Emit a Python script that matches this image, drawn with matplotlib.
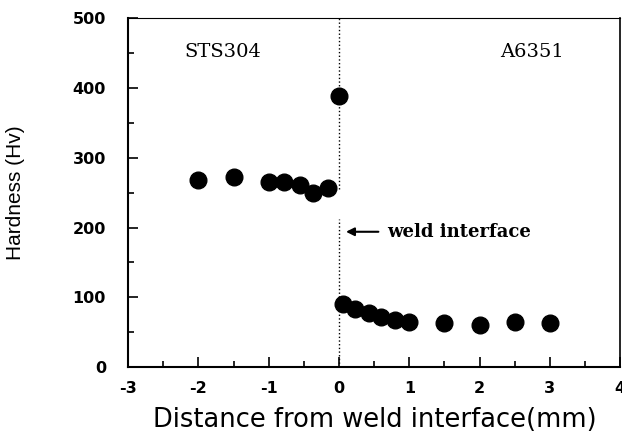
import matplotlib
matplotlib.use("Agg")
import matplotlib.pyplot as plt
from matplotlib.ticker import MultipleLocator

plt.rcParams["axes.unicode_minus"] = False

# STS304 side
x_sts = [-2.0, -1.5, -1.0, -0.78, -0.55, -0.37, -0.16, 0.0]
hv_sts = [268, 273, 265, 265, 261, 249, 257, 388]
# A6351 side
x_al = [0.05, 0.23, 0.42, 0.6, 0.8, 1.0, 1.5, 2.0, 2.5, 3.0]
hv_al = [91, 84, 78, 72, 68, 65, 63, 61, 65, 64]

xticks = [-3, -2, -1, 0, 1, 2, 3, 4]
yticks = [0, 100, 200, 300, 400, 500]

fig = plt.figure(figsize=(6.22, 4.32), dpi=100)
ax = fig.add_axes([0.206, 0.150, 0.791, 0.808])

ax.plot(x_sts + x_al, hv_sts + hv_al, "o", color="black", markersize=12)

# weld interface line
ax.plot([0, 0], [0, 212], ":", color="black", lw=1)
ax.plot([0, 0], [255, 500], ":", color="black", lw=1)
ax.annotate("", xy=(0.06, 194), xytext=(0.6, 194),
            arrowprops=dict(arrowstyle="-|>", color="black", lw=1.5, mutation_scale=12))
ax.text(0.68, 194, "weld interface", family="DejaVu Serif", fontweight="bold",
        fontsize=13, va="center", ha="left")
ax.text(-1.65, 452, "STS304", family="DejaVu Serif", fontsize=14, ha="center", va="center")
ax.text(2.74, 452, "A6351", family="DejaVu Serif", fontsize=14, ha="center", va="center")

ax.set_xlim(-3, 4)
ax.set_ylim(0, 500)
ax.set_xticks(xticks)
ax.set_yticks(yticks)
ax.xaxis.set_minor_locator(MultipleLocator(0.5))
ax.yaxis.set_minor_locator(MultipleLocator(50))
ax.tick_params(which="both", direction="in", top=False, right=False, width=1.2)
ax.tick_params(which="major", length=7)
ax.tick_params(which="minor", length=4)
for lab in ax.get_xticklabels() + ax.get_yticklabels():
    lab.set_family("DejaVu Sans")
    lab.set_fontweight("bold")
    lab.set_fontsize(11.5)
ax.tick_params(axis="x", pad=10)
ax.tick_params(axis="y", pad=16)

ax.spines["top"].set_linestyle((0, (2, 1)))
ax.spines["top"].set_linewidth(0.8)
ax.spines["left"].set_linewidth(1.5)
ax.spines["bottom"].set_linewidth(1.5)
ax.spines["right"].set_linewidth(1.2)

ax.set_xlabel("Distance from weld interface(mm)", family="DejaVu Sans", fontsize=18.5)
ax.xaxis.set_label_coords(0.502, -0.115)
ax.set_ylabel("Hardness (Hv)", family=["Liberation Sans Narrow", "Liberation Sans"], fontsize=15)
ax.yaxis.set_label_coords(-0.21, 0.5)

fig.savefig("out.png", dpi=100)
